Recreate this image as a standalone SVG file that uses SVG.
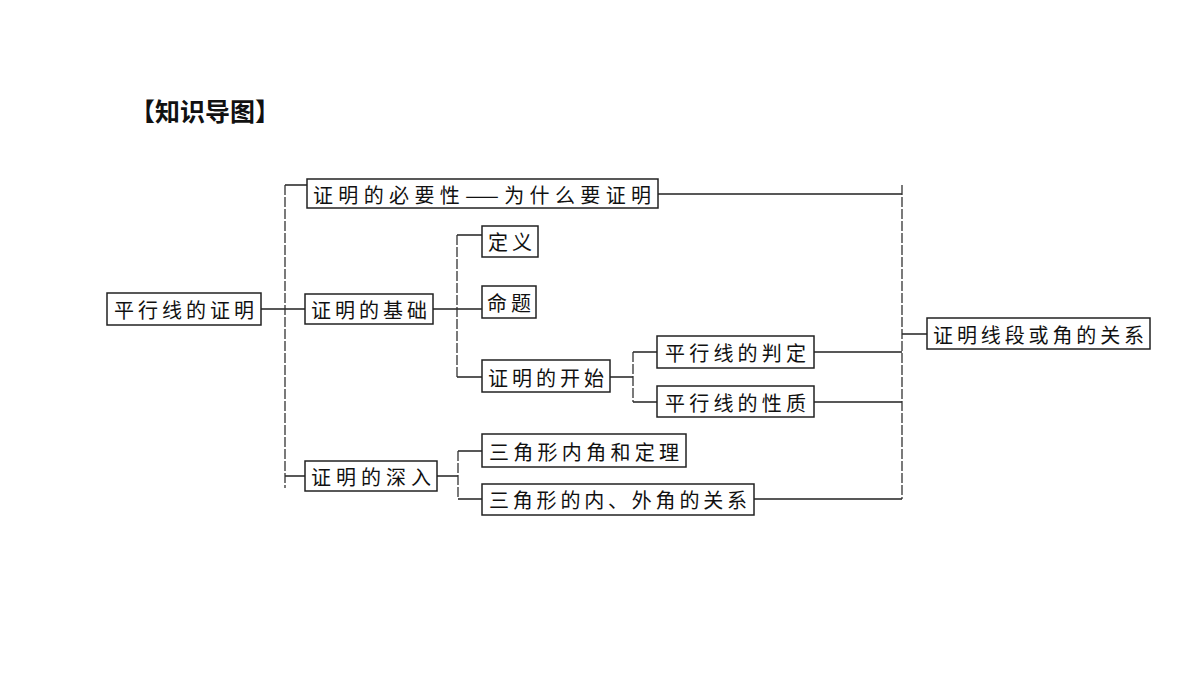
<svg xmlns="http://www.w3.org/2000/svg" width="1200" height="675" viewBox="0 0 1200 675">
<style>
rect.b{fill:#fff;stroke:#222;stroke-width:1.5}
.sh{fill:none;stroke:#444;stroke-width:3}
text{font-family:"Noto Sans CJK SC","Liberation Serif",serif;font-size:20px;fill:#111;dominant-baseline:central}
.c{fill:none;stroke:#222;stroke-width:1.3}
.d{fill:none;stroke:#333;stroke-width:1.3;stroke-dasharray:10 2}
</style>
<rect width="1200" height="675" fill="#fff"/>
<text x="130" y="110" style="font-size:25px;font-weight:bold">【知识导图】</text>
<g id="connectors">
<path class="c" d="M261 309H305M285 185H307M285 476H305M433 309H482M457 235H482M457 377H482M610 377H633M633 352H657M633 402H657M437 476H458M458 451H482M458 499H482M658 194H902M814 352H902M814 402H902M754 499H902M902 334H927"/>
<path class="d" d="M285 185V488M457 235V377M633 352V402M458 451V499M902 185V499"/>
</g>
<g id="root"><rect class="b" x="107" y="293" width="154" height="32"/><text x="114" y="309" textLength="140">平行线的证明</text></g>
<g id="n1"><rect class="b" x="307" y="179" width="351" height="29"/><text x="313" y="194" textLength="338">证明的必要性——为什么要证明</text></g>
<g id="n2"><rect class="b" x="305" y="294" width="128" height="30"/><text x="311" y="309" textLength="116">证明的基础</text></g>
<g id="n3"><rect class="b" x="482" y="226" width="56" height="31"/><text x="488" y="241" textLength="44">定义</text></g>
<g id="n4"><rect class="b" x="482" y="286" width="54" height="32"/><text x="487" y="302" textLength="44">命题</text></g>
<g id="n5"><rect class="b" x="482" y="360" width="128" height="32"/><text x="488" y="377" textLength="116">证明的开始</text></g>
<g id="n6"><rect class="b" x="657" y="336" width="157" height="32"/><text x="665" y="352" textLength="141">平行线的判定</text></g>
<g id="n7"><rect class="b" x="657" y="386" width="157" height="31"/><text x="665" y="402" textLength="141">平行线的性质</text></g>
<g id="n8"><rect class="b" x="305" y="461" width="132" height="30"/><text x="311" y="476" textLength="120">证明的深入</text></g>
<g id="n9"><rect class="b" x="482" y="434" width="204" height="33"/><text x="489" y="451" textLength="190">三角形内角和定理</text></g>
<g id="n10"><rect class="b" x="482" y="484" width="272" height="31"/><text x="489" y="499" textLength="258">三角形的内、外角的关系</text></g>
<g id="n11"><rect class="b" x="927" y="318" width="223" height="31"/><text x="933" y="334" textLength="211">证明线段或角的关系</text></g>
</svg>
